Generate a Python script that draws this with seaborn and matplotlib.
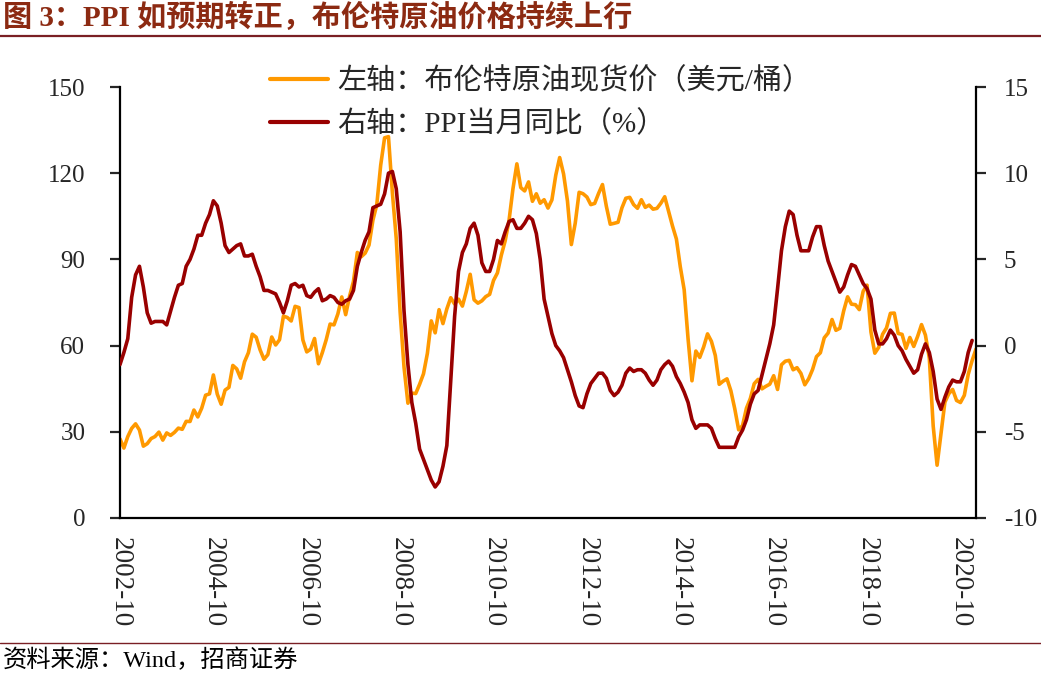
import pandas as pd
import seaborn as sns
import matplotlib.pyplot as plt
from matplotlib.lines import Line2D

# 月份：2002-10 到 2021-02
months = pd.period_range('2002-10', '2021-02', freq='M').strftime('%Y-%m').tolist()

# 布伦特原油现货价（美元/桶），月均
brent = [27.53, 24.34, 28.33,
         31.18, 32.77, 30.61, 25.00, 25.86, 27.65, 28.35, 29.89, 27.11, 29.61, 28.75, 29.81,
         31.28, 30.86, 33.63, 33.59, 37.57, 35.18, 38.22, 42.74, 43.20, 49.78, 43.11, 39.60,
         44.51, 45.48, 53.10, 51.88, 48.65, 54.35, 57.52, 63.98, 62.91, 58.54, 55.24, 56.86,
         62.99, 60.21, 62.06, 70.26, 69.78, 68.56, 73.67, 73.23, 61.96, 57.81, 58.76, 62.47,
         53.68, 57.56, 62.05, 67.49, 67.21, 71.05, 76.93, 70.76, 77.17, 82.34, 92.41, 90.93,
         92.18, 94.99, 103.64, 109.07, 122.80, 132.32, 132.72, 113.24, 97.23, 71.58, 52.45, 39.95,
         43.44, 43.32, 46.54, 50.18, 57.30, 68.61, 64.44, 72.51, 67.65, 72.77, 76.66, 74.46,
         76.17, 73.75, 78.83, 84.82, 75.95, 74.76, 75.58, 77.04, 77.84, 82.67, 85.28, 91.45,
         96.52, 103.72, 114.64, 123.26, 114.99, 113.83, 116.97, 110.22, 112.83, 109.55, 110.77, 107.87,
         110.69, 119.33, 125.45, 119.75, 110.34, 95.16, 102.62, 113.36, 112.86, 111.71, 109.06, 109.49,
         112.96, 116.05, 108.47, 102.25, 102.56, 102.92, 107.93, 111.28, 111.60, 109.08, 107.79, 110.76,
         108.12, 108.90, 107.48, 107.76, 109.54, 111.80, 106.77, 101.61, 97.09, 87.43, 79.44, 62.34,
         47.76, 58.10, 55.89, 59.52, 64.08, 61.48, 56.56, 46.52, 47.62, 48.43, 44.27, 38.01,
         30.70, 32.18, 38.21, 41.58, 46.74, 48.25, 44.95, 45.84, 46.57, 49.52, 44.73, 53.31,
         54.58, 54.87, 51.59, 52.31, 50.33, 46.37, 48.48, 51.70, 56.15, 57.51, 62.71, 64.37,
         69.08, 65.32, 66.02, 72.11, 76.98, 74.41, 74.25, 72.53, 78.89, 81.03, 64.75, 57.36,
         59.41, 63.96, 66.14, 71.23, 71.32, 64.22, 63.92, 59.04, 62.83, 59.71, 63.21, 67.31,
         63.65, 55.66, 32.01, 18.38, 29.38, 40.27, 43.24, 44.74, 40.91, 40.19, 42.69, 49.99,
         54.77, 58.80]

# PPI当月同比（%），到 2021-01
ppi = [-1.1, -0.4, 0.4,
       2.8, 4.1, 4.6, 3.4, 1.9, 1.3, 1.4, 1.4, 1.4, 1.2, 2.0, 2.8,
       3.5, 3.6, 4.6, 5.0, 5.6, 6.4, 6.4, 7.1, 7.6, 8.4, 8.1, 7.1,
       5.8, 5.4, 5.6, 5.8, 5.9, 5.2, 5.2, 5.3, 4.6, 4.0, 3.2, 3.2,
       3.1, 3.0, 2.5, 1.9, 2.6, 3.5, 3.6, 3.4, 3.5, 2.9, 2.8, 3.1,
       3.3, 2.6, 2.7, 2.9, 2.8, 2.5, 2.4, 2.6, 2.7, 3.2, 4.6, 5.4,
       6.1, 6.6, 8.0, 8.1, 8.2, 8.8, 10.0, 10.1, 9.1, 6.6, 2.0, -1.1,
       -3.3, -4.5, -6.0, -6.6, -7.2, -7.8, -8.2, -7.9, -7.0, -5.8, -2.1, 1.7,
       4.3, 5.4, 5.9, 6.8, 7.1, 6.4, 4.8, 4.3, 4.3, 5.0, 6.1, 5.9,
       6.6, 7.2, 7.3, 6.8, 6.8, 7.1, 7.5, 7.3, 6.5, 5.0, 2.7, 1.7,
       0.7, 0.0, -0.3, -0.7, -1.4, -2.1, -2.9, -3.5, -3.6, -2.8, -2.2, -1.9,
       -1.6, -1.6, -1.9, -2.6, -2.9, -2.7, -2.3, -1.6, -1.3, -1.5, -1.4, -1.4,
       -1.6, -2.0, -2.3, -2.0, -1.4, -1.1, -0.9, -1.2, -1.8, -2.2, -2.7, -3.3,
       -4.3, -4.8, -4.6, -4.6, -4.6, -4.8, -5.4, -5.9, -5.9, -5.9, -5.9, -5.9,
       -5.3, -4.9, -4.3, -3.4, -2.8, -2.6, -1.7, -0.8, 0.1, 1.2, 3.3, 5.5,
       6.9, 7.8, 7.6, 6.4, 5.5, 5.5, 5.5, 6.3, 6.9, 6.9, 5.8, 4.9,
       4.3, 3.7, 3.1, 3.4, 4.1, 4.7, 4.6, 4.1, 3.6, 3.3, 2.7, 0.9,
       0.1, 0.1, 0.4, 0.9, 0.6, 0.0, -0.3, -0.8, -1.2, -1.6, -1.4, -0.5,
       0.1, -0.4, -1.5, -3.1, -3.7, -3.0, -2.4, -2.0, -2.1, -2.1, -1.5, -0.4,
       0.3]

tick_labels = ['2002-10', '2004-10', '2006-10', '2008-10', '2010-10',
               '2012-10', '2014-10', '2016-10', '2018-10', '2020-10']
left_ticks = [0, 30, 60, 90, 120, 150]
right_ticks = [-10, -5, 0, 5, 10, 15]

label_brent = '左轴：布伦特原油现货价（美元/桶）'
label_ppi = '右轴：PPI当月同比（%）'

ORANGE = '#FF9900'
DARKRED = '#990000'
TITLE_RED = '#8C2A12'
LINE_RED = '#7A1F24'

sns.set_style('white')
plt.rcParams['font.family'] = ['Liberation Serif', 'Noto Sans CJK SC', 'DejaVu Sans']
plt.rcParams['axes.unicode_minus'] = False

df_brent = pd.DataFrame({'pos': range(len(brent)), 'val': brent})
df_ppi = pd.DataFrame({'pos': range(len(ppi)), 'val': ppi})

fig = plt.figure(figsize=(10.41, 6.74), dpi=100)
ax = fig.add_axes([120 / 1041, 156 / 674, 856 / 1041, 431 / 674])
ax2 = ax.twinx()

sns.lineplot(data=df_brent, x='pos', y='val', ax=ax, color=ORANGE, linewidth=2.6)
sns.lineplot(data=df_ppi, x='pos', y='val', ax=ax2, color=DARKRED, linewidth=2.6)

ax.set_xlim(0, 220)
ax.set_ylim(0, 150)
ax2.set_ylim(-10, 15)
ax.set_yticks(left_ticks)
ax2.set_yticks(right_ticks)
ax.set_xticks([months.index(t) for t in tick_labels])
ax.set_xticklabels(tick_labels, rotation=-90, fontsize=19.5)
ax.set_xlabel('')
ax.set_ylabel('')
ax2.set_ylabel('')

for a in (ax, ax2):
    a.spines['top'].set_visible(False)
    for s in a.spines.values():
        s.set_linewidth(1.6)
        s.set_color('black')
ax.spines['right'].set_visible(False)
ax2.spines['left'].set_visible(False)
ax2.spines['bottom'].set_visible(False)

ax.tick_params(axis='y', direction='out', length=7, width=1.6, labelsize=18, pad=18)
ax.tick_params(axis='x', length=0, pad=14)
ax2.tick_params(axis='y', direction='out', length=7, width=1.6, labelsize=18, pad=13)

handles = [Line2D([], [], color=ORANGE, lw=3), Line2D([], [], color=DARKRED, lw=3)]
fig.legend(handles, [label_brent, label_ppi], loc='upper left',
           bbox_to_anchor=(270 / 1041, 1 - 67 / 674), frameon=False,
           fontsize=21, handlelength=2.0, handletextpad=0.3,
           labelspacing=0.55, borderpad=0, borderaxespad=0)

fig.text(0.003, 1 - 17 / 674, '图 3：PPI 如预期转正，布伦特原油价格持续上行',
         fontsize=21, fontweight='bold', color=TITLE_RED, va='center', ha='left')
fig.add_artist(Line2D([0, 1], [1 - 36 / 674] * 2, transform=fig.transFigure,
                      color=LINE_RED, lw=1.6))
fig.add_artist(Line2D([0, 1], [1 - 643 / 674] * 2, transform=fig.transFigure,
                      color=LINE_RED, lw=1.0))
fig.text(0.003, 1 - 660 / 674, '资料来源：Wind，招商证券', fontsize=17.5,
         color='black', va='center', ha='left')

fig.savefig('out.png', dpi=100)
